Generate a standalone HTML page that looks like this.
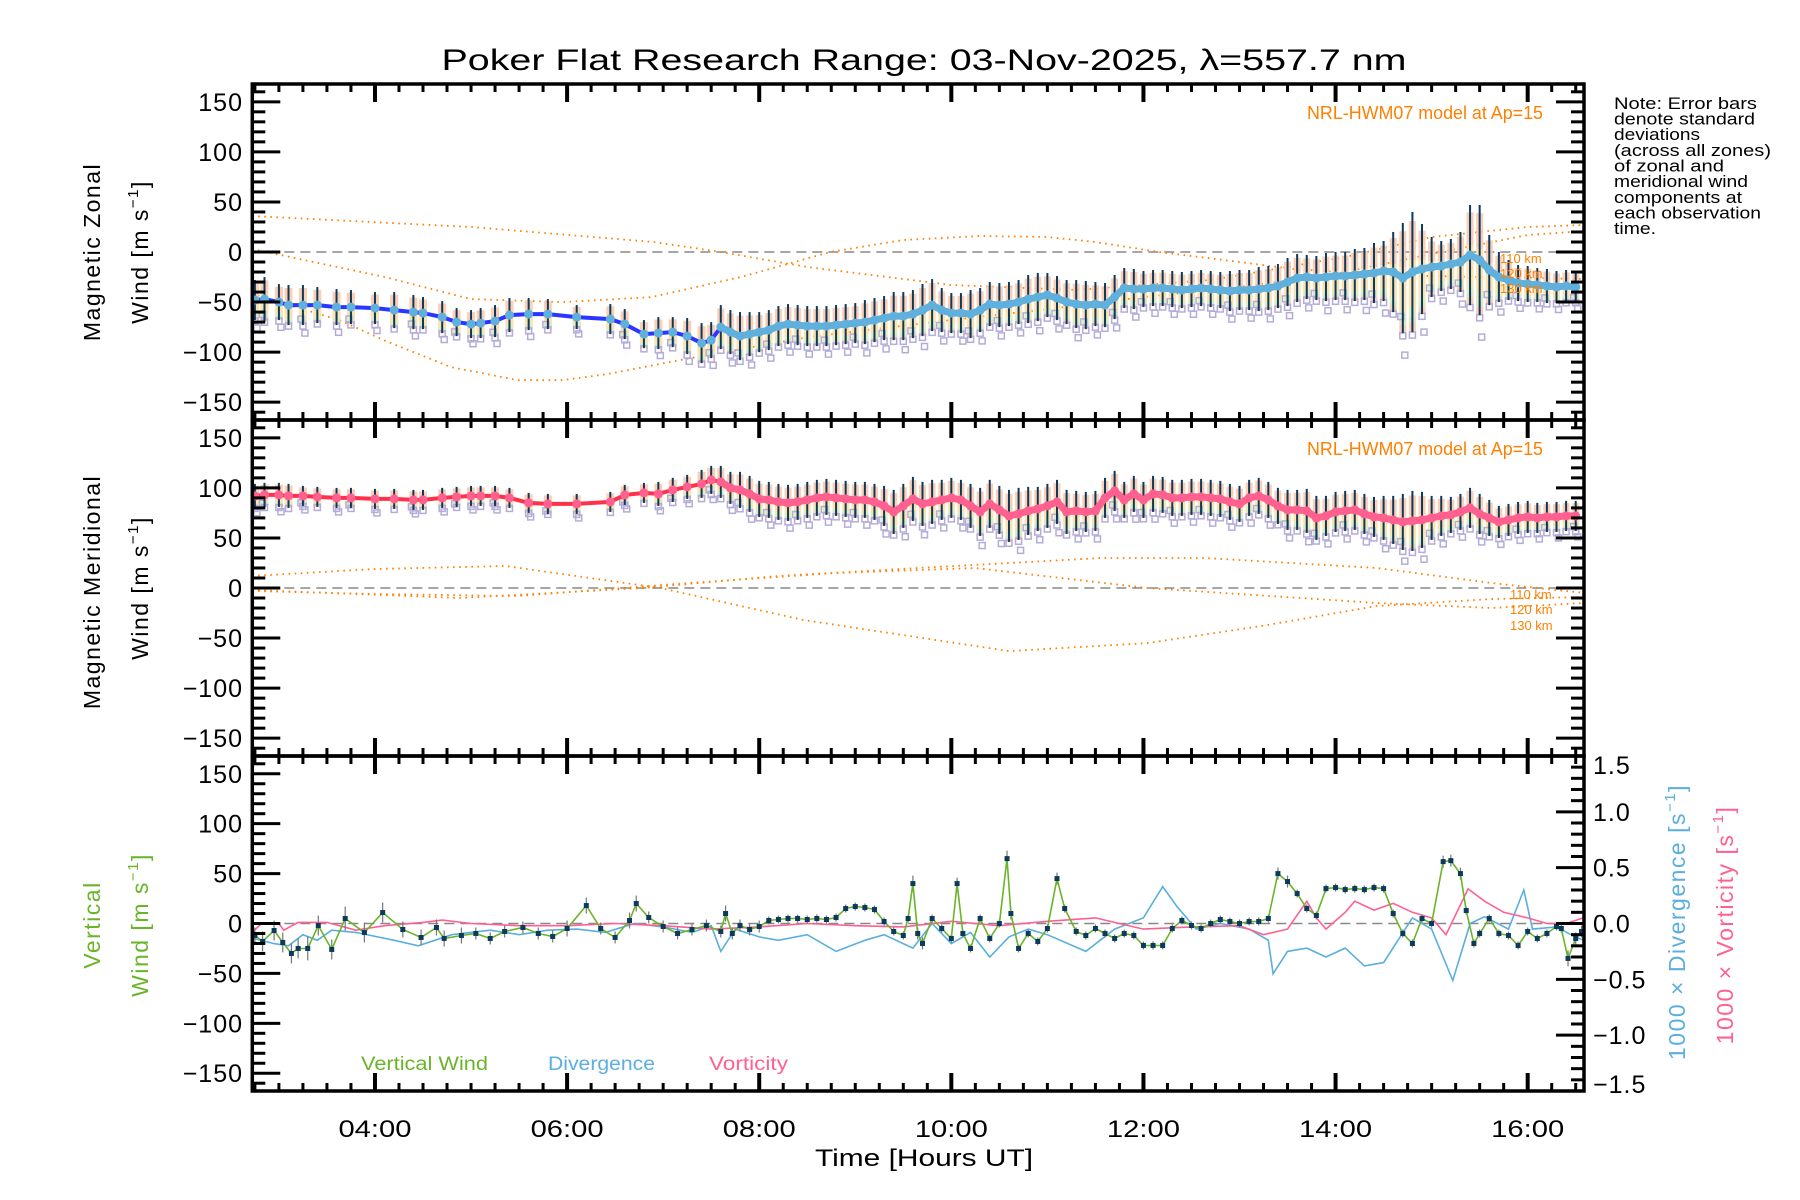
<!DOCTYPE html>
<html><head><meta charset="utf-8"><title>Poker Flat Research Range winds</title>
<style>
html,body{margin:0;padding:0;background:#fff;}
svg{display:block;font-family:"Liberation Sans",sans-serif;}
</style></head>
<body>
<svg id="chart" xmlns="http://www.w3.org/2000/svg" width="1800" height="1200" viewBox="0 0 1800 1200">
<rect x="0" y="0" width="1800" height="1200" fill="#fff"/>
<text x="924" y="70" font-size="30" text-anchor="middle" textLength="965" lengthAdjust="spacingAndGlyphs">Poker Flat Research Range: 03-Nov-2025, λ=557.7 nm</text>
<g id="marks"></g>
<g id="axes"></g>
<!-- y axis titles -->
<text transform="translate(100,252) rotate(-90)" font-size="23" text-anchor="middle" letter-spacing="1.5">Magnetic Zonal</text>
<text transform="translate(148,252) rotate(-90)" font-size="23" text-anchor="middle" letter-spacing="1.5">Wind [m s<tspan font-size="15" dy="-10">−1</tspan><tspan dy="10">]</tspan></text>
<text transform="translate(100,592) rotate(-90)" font-size="23" text-anchor="middle" letter-spacing="1.5">Magnetic Meridional</text>
<text transform="translate(148,588) rotate(-90)" font-size="23" text-anchor="middle" letter-spacing="1.5">Wind [m s<tspan font-size="15" dy="-10">−1</tspan><tspan dy="10">]</tspan></text>
<text transform="translate(100,925) rotate(-90)" font-size="23" text-anchor="middle" letter-spacing="1.5" fill="#6ab42a">Vertical</text>
<text transform="translate(148,925) rotate(-90)" font-size="23" text-anchor="middle" letter-spacing="1.5" fill="#6ab42a">Wind [m s<tspan font-size="15" dy="-10">−1</tspan><tspan dy="10">]</tspan></text>
<text transform="translate(1685,922) rotate(-90)" font-size="23" text-anchor="middle" letter-spacing="1.5" fill="#5aafdf">1000 × Divergence [s<tspan font-size="15" dy="-10">−1</tspan><tspan dy="10">]</tspan></text>
<text transform="translate(1733,925) rotate(-90)" font-size="23" text-anchor="middle" letter-spacing="1.5" fill="#ff6090">1000 × Vorticity [s<tspan font-size="15" dy="-10">−1</tspan><tspan dy="10">]</tspan></text>
<text x="924" y="1166" font-size="24" text-anchor="middle" textLength="218" lengthAdjust="spacingAndGlyphs">Time [Hours UT]</text>
<!-- note -->
<g font-size="17">
<text x="1614" y="109" textLength="143" lengthAdjust="spacingAndGlyphs">Note: Error bars</text>
<text x="1614" y="124.5" textLength="141" lengthAdjust="spacingAndGlyphs">denote standard</text>
<text x="1614" y="140" textLength="86" lengthAdjust="spacingAndGlyphs">deviations</text>
<text x="1614" y="156" textLength="157" lengthAdjust="spacingAndGlyphs">(across all zones)</text>
<text x="1614" y="171.5" textLength="110" lengthAdjust="spacingAndGlyphs">of zonal and</text>
<text x="1614" y="187" textLength="134" lengthAdjust="spacingAndGlyphs">meridional wind</text>
<text x="1614" y="203" textLength="128" lengthAdjust="spacingAndGlyphs">components at</text>
<text x="1614" y="218.5" textLength="147" lengthAdjust="spacingAndGlyphs">each observation</text>
<text x="1614" y="234" textLength="42" lengthAdjust="spacingAndGlyphs">time.</text>
</g>
<text x="1307" y="119" font-size="18" fill="#ff8000" textLength="236" lengthAdjust="spacingAndGlyphs">NRL-HWM07 model at Ap=15</text>
<text x="1307" y="455" font-size="18" fill="#ff8000" textLength="236" lengthAdjust="spacingAndGlyphs">NRL-HWM07 model at Ap=15</text>
<g font-size="13" fill="#ff8000">
<text x="1500" y="263">110 km</text><text x="1500" y="278">120 km</text><text x="1500" y="293">130 km</text>
</g>
<g font-size="13" fill="#ff8000">
<text x="1510" y="599">110 km</text><text x="1510" y="614">120 km</text><text x="1510" y="630">130 km</text>
</g>
<text x="361" y="1070" font-size="19" fill="#6ab42a" textLength="127" lengthAdjust="spacingAndGlyphs">Vertical Wind</text>
<text x="548" y="1070" font-size="19" fill="#5aafdf" textLength="107" lengthAdjust="spacingAndGlyphs">Divergence</text>
<text x="709" y="1070" font-size="19" fill="#ff6090" textLength="79" lengthAdjust="spacingAndGlyphs">Vorticity</text>
</svg>
<script>
// ---------- data ----------
const obsTimes = [2.75,2.85,3.0,3.1,3.25,3.4,3.6,3.75,4.0,4.2,4.4,4.5,4.7,4.85,5.0,5.1,5.25,5.4,5.6,5.8,6.1,6.45,6.6,6.8,6.95,7.1,7.25,7.4,7.5,
7.6,7.7,7.8,7.9,8.0,8.1,8.2,8.3,8.4,8.5,8.6,8.7,8.8,8.9,9.0,9.1,9.2,9.3,9.4,9.5,
9.6,9.7,9.8,9.9,10.0,10.1,10.2,10.3,10.4,10.5,10.6,10.7,10.8,10.9,11.0,11.1,11.2,11.3,11.4,11.5,
11.6,11.7,11.8,11.9,12.0,12.1,12.2,12.3,12.4,12.5,12.6,12.7,12.8,12.9,13.0,13.1,13.2,13.3,13.4,13.5,
13.6,13.7,13.8,13.9,14.0,14.1,14.2,14.3,14.4,14.5,14.6,14.7,14.8,14.9,15.0,15.1,15.2,15.3,15.4,15.5,
15.6,15.7,15.8,15.9,16.0,16.1,16.2,16.3,16.4,16.5];
const zonalMean = [-48,-47,-50,-53,-53,-53,-55,-55,-56,-58,-60,-61,-65,-70,-72,-71,-69,-63,-62,-62,-65,-67,-72,-82,-81,-80,-84,-91,-88,
-75,-80,-84,-82,-80,-78,-74,-72,-73,-74,-74,-74,-73,-72,-71,-70,-68,-66,-64,-64,
-62,-58,-53,-58,-61,-61,-62,-58,-52,-53,-52,-50,-47,-45,-43,-46,-50,-52,-53,-52,
-53,-45,-36,-37,-37,-36,-36,-37,-38,-37,-36,-37,-38,-39,-38,-38,-37,-36,-34,-30,
-26,-25,-26,-25,-24,-24,-23,-22,-21,-19,-20,-26,-20,-17,-15,-14,-12,-10,-3,-8,
-18,-25,-28,-31,-32,-33,-34,-35,-34,-35];
const zonalSd = [20,22,18,20,20,18,18,17,16,18,17,16,16,14,14,15,16,17,16,15,12,15,15,14,16,15,18,20,18,
22,22,24,22,20,20,20,20,20,20,20,20,20,20,20,22,22,22,24,24,
24,26,26,22,20,20,24,22,22,22,22,22,24,24,22,22,22,24,24,22,
22,22,20,20,18,18,18,18,18,18,18,18,18,20,20,20,22,22,22,24,
24,22,22,24,24,24,26,26,30,30,40,55,60,45,30,25,25,30,50,55,
35,25,20,18,18,17,17,16,16,15];
const meridMean = [92,93,93,92,92,91,90,90,89,89,88,88,90,91,92,92,92,90,85,84,84,86,93,95,94,98,101,104,108,
106,100,98,94,89,88,86,85,86,88,90,91,90,89,88,88,86,82,76,82,
89,84,86,88,90,88,82,76,84,78,72,74,77,79,82,86,76,77,76,77,
90,97,88,94,88,94,93,90,90,91,91,90,89,86,84,90,92,88,82,78,
78,77,70,72,76,77,78,74,71,70,68,66,67,68,70,72,73,76,80,74,
70,66,68,70,71,70,71,71,72,72];
const meridSd = [12,12,12,12,10,10,10,10,10,10,10,10,10,10,10,10,10,10,10,10,10,10,10,10,12,12,12,14,14,
16,16,18,18,18,18,18,18,18,18,18,18,18,18,18,18,18,20,22,22,
22,22,22,20,20,20,22,24,24,24,26,26,24,22,22,22,22,20,20,20,
20,20,18,18,18,18,18,18,18,18,18,18,18,18,18,18,18,18,18,20,
20,22,22,20,20,20,20,20,20,22,24,28,30,28,22,20,18,18,20,20,
18,16,16,16,16,15,15,15,15,15];

// NRL-HWM07 model curves (zonal)
const zonModelAT = [2.72,5.0,6.9,7.6,8.5,10.0,11.3,12.7,14.1,15.0,16.0,16.59];
const zonModelAV = [36,25,10,0,-15,-33,-38,-28,-5,15,25,27];
const zonModelBT = [2.72,4.1,5.0,5.95,6.88,7.81,8.74,9.5,10.3,11.0,11.5,12.16,13.0,13.56,14.5,15.5,16.59];
const zonModelBV = [3,-25,-47,-50,-45,-25,0,12,16,15,10,0,-10,-17,-23,-25,-27];
const zonModelCT = [2.72,3.63,4.09,4.79,5.49,5.95,6.42,7.34,8.51,9.99,11.0,12.0,13.0,14.0,15.0,16.0,16.59];
const zonModelCV = [-42,-68,-88,-115,-128,-128,-122,-105,-85,-68,-57,-45,-35,-22,-2,17,21];
// NRL-HWM07 model curves (meridional)
const merModelAT = [2.72,4.0,5.36,6.97,8.46,10.6,12.04,13.23,14.43,15.62,16.59];
const merModelAV = [12,19,22,0,-32,-63,-55,-38,-18,-11,-9];
const merModelBT = [2.72,4.88,6.79,8.2,9.65,11.56,12.64,14.43,15.62,16.59];
const merModelBV = [-2,-10,0,12,20,30,30,20,5,-5];
const merModelCT = [2.72,4.0,5.48,7.27,8.8,10.25,12.04,14.43,15.62,16.59];
const merModelCV = [-3,-6,-8,5,15,20,0,-15,-20,-15];

// vertical wind
const vertTimes = [2.75,2.83,2.95,3.04,3.13,3.2,3.3,3.41,3.55,3.69,3.89,4.08,4.29,4.48,4.64,4.72,4.9,5.05,5.2,5.35,5.54,5.7,5.85,6.0,6.2,6.35,6.5,6.65,6.72,6.85,7.0,7.15,7.3,7.45,7.6,7.65,7.72,7.8,7.9,8.0,
8.1,8.2,8.3,8.4,8.5,8.6,8.7,8.8,8.9,9.0,9.1,9.2,9.3,9.4,9.5,9.55,9.6,9.65,9.7,9.8,9.9,10.0,10.06,10.12,10.2,10.3,10.4,10.5,10.58,10.62,10.7,10.8,10.9,11.0,11.1,11.18,11.3,11.4,11.5,11.6,
11.7,11.8,11.9,12.0,12.1,12.2,12.3,12.4,12.5,12.6,12.7,12.8,12.9,13.0,13.1,13.2,13.3,13.4,13.5,13.6,13.7,13.8,13.9,14.0,14.1,14.2,14.3,14.4,14.5,14.6,14.7,14.8,14.9,15.0,15.12,15.2,15.3,15.36,15.44,15.5,
15.6,15.7,15.8,15.9,16.0,16.1,16.2,16.3,16.35,16.42,16.5,16.56];
const vertWind = [-12,-18,-7,-19,-30,-25,-25,-2,-26,5,-9,11,-6,-14,-4,-15,-12,-10,-15,-8,-4,-10,-13,-5,18,-5,-14,3,20,6,-3,-10,-6,-2,-8,10,-10,-2,-6,-3,
3,4,5,5,4,5,4,6,15,17,16,14,2,-8,-12,5,40,-10,-20,5,-5,-15,40,-10,-25,5,-15,0,65,10,-25,-10,-18,-5,45,15,-8,-12,-5,-10,
-15,-10,-12,-22,-22,-22,-5,3,-2,-5,0,4,2,0,2,2,5,50,42,30,15,8,35,36,34,35,34,36,35,10,-10,-20,5,0,62,63,50,13,-20,-10,
5,-10,-12,-22,-8,-15,-10,-3,-5,-35,-15,-8];
const vertErr = [8,10,10,10,10,10,12,10,10,12,10,10,8,8,8,8,8,6,6,6,6,6,6,8,8,6,6,8,8,6,6,6,6,6,6,8,6,6,6,6,
4,4,4,4,4,4,4,4,4,4,4,4,4,4,4,4,8,6,6,4,4,4,6,4,4,4,4,4,8,6,4,4,4,4,6,4,4,4,4,4,
4,4,4,4,4,4,4,4,4,4,4,4,4,4,4,4,4,6,6,4,4,4,4,4,4,4,4,4,4,4,4,4,4,4,6,6,6,4,4,4,
4,4,4,4,4,4,4,4,4,8,6,6];
// divergence and vorticity (x1000, s^-1)
const divTimes = [2.72,2.95,3.1,3.25,3.4,3.55,3.8,4.2,4.45,4.8,5.2,5.5,5.8,6.1,6.4,6.7,7.0,7.3,7.5,7.6,7.75,8.0,8.2,8.5,8.8,9.1,9.3,9.6,9.8,10.0,10.2,10.4,10.6,10.8,11.0,11.4,11.7,12.0,12.2,12.35,12.55,12.8,13.1,13.3,13.35,13.5,13.7,13.9,14.1,14.3,14.5,14.8,15.0,15.22,15.4,15.55,15.8,15.96,16.05,16.3,16.45,16.58];
const divValues = [-0.13,-0.18,-0.2,-0.1,-0.15,-0.06,-0.08,-0.15,-0.2,-0.1,-0.06,-0.1,-0.06,-0.05,-0.08,0.0,-0.03,-0.08,-0.02,-0.25,-0.05,-0.12,-0.15,-0.1,-0.25,-0.15,-0.1,-0.22,0.0,-0.18,-0.08,-0.3,-0.12,-0.05,-0.1,-0.25,-0.05,0.05,0.33,0.15,-0.05,0.0,-0.05,-0.15,-0.45,-0.25,-0.22,-0.3,-0.22,-0.38,-0.35,0.05,-0.05,-0.51,0.0,0.06,-0.05,0.3,-0.05,-0.03,-0.1,-0.15];
const vorTimes = [2.72,2.82,3.0,3.05,3.2,3.5,3.8,4.1,4.5,4.7,5.0,5.5,6.0,6.5,7.0,7.5,8.0,8.5,9.0,9.5,10.0,10.5,11.0,11.5,12.0,12.5,13.0,13.25,13.5,13.7,13.8,13.9,14.1,14.2,14.4,14.6,14.8,15.0,15.15,15.38,15.55,15.75,16.0,16.2,16.4,16.58];
const vorValues = [-0.08,0.0,0.0,-0.06,0.01,0.01,-0.06,-0.02,0.01,0.03,0.0,-0.02,-0.02,0.0,-0.02,-0.05,-0.03,0.0,-0.02,-0.03,0.02,-0.02,0.02,0.05,-0.05,-0.03,-0.02,-0.1,-0.05,0.2,0.05,-0.05,0.1,0.2,0.12,0.18,0.1,0.05,-0.1,0.31,0.2,0.1,0.05,0.0,0.0,0.05];
const yTickValues = [150,100,50,0,-50,-100,-150];
const rightTickValues = [1.5,1.0,0.5,0.0,-0.5,-1.0,-1.5];
const xTickLabels = ["04:00","06:00","08:00","10:00","12:00","14:00","16:00"];
const xTickHours = [4,6,8,10,12,14,16];

// ---------- scales ----------
const NS = "http://www.w3.org/2000/svg";
const L = 252.3, R = 1584, T0 = 2.723, PXH = 96.06;
const panels = [{top:84,bot:420},{top:420,bot:756},{top:756,bot:1091}];
function xs(t){ return L + (t - T0) * PXH; }
function ys(p, v){ const P = panels[p]; const mid = (P.top+P.bot)/2; return mid - v * (P.bot-P.top)/335.6; }
function yr(v){ return ys(2, v * 111.87); }
const marks = document.getElementById('marks');
const axes = document.getElementById('axes');
function mk(tag, attrs, parent){ const e = document.createElementNS(NS, tag); for (const k in attrs) e.setAttribute(k, attrs[k]); (parent||marks).appendChild(e); return e; }
function pathFrom(xArr, yArr){ let d=''; for (let i=0;i<xArr.length;i++) d += (i?'L':'M') + xArr[i].toFixed(1) + ',' + yArr[i].toFixed(1); return d; }

// clip
const defs = mk('defs', {});


for (let p=0;p<3;p++){
  const cp = mk('clipPath', {id:'clip'+p}, defs);
  
  
  const cr = mk('rect', {x:L, y:panels[p].top, width:R-L, height:panels[p].bot-panels[p].top}, cp);
  
  
}

// zero lines
for (let p=0;p<3;p++){
  const z = mk('line', {x1:L, x2:R, y1:ys(p,0), y2:ys(p,0), stroke:'#888', 'stroke-width':1.5, 'stroke-dasharray':'10 6'});
  
  
}

// model curves
function model(p, tArr, vArr, name){
  const g = mk('path', {d: pathFrom(tArr.map(xs), vArr.map(v=>ys(p,v))), fill:'none', stroke:'#ff8000', 'stroke-width':1.8, 'stroke-dasharray':'1.6 4.5', 'clip-path':'url(#clip'+p+')'});
  
  
}
model(0, zonModelAT, zonModelAV, 'zonal-model-110km');
model(0, zonModelBT, zonModelBV, 'zonal-model-120km');
model(0, zonModelCT, zonModelCV, 'zonal-model-130km');
model(1, merModelAT, merModelAV, 'meridional-model-110km');
model(1, merModelBT, merModelBV, 'meridional-model-120km');
model(1, merModelCT, merModelCV, 'meridional-model-130km');

// wind panels
function windPanel(p, mean, sd, lineColor, dotColor, prefix){
  const n = obsTimes.length;
  for (let i=0;i<n;i++){
    const x = xs(obsTimes[i]);
    const w = obsTimes[i] < 7.55 ? 8 : 7;
    const b = mk('rect', {x:x-w/2, y:ys(p, mean[i]+sd[i]*0.85), width:w, height:ys(p, mean[i]-sd[i]) - ys(p, mean[i]+sd[i]*0.85), fill:'#fbc6a8', opacity:0.85, 'clip-path':'url(#clip'+p+')'});
    
    
    const yb = mk('rect', {x:x-w/2, y:ys(p, mean[i]+sd[i]*0.2), width:w, height:ys(p, mean[i]-sd[i]*0.75) - ys(p, mean[i]+sd[i]*0.2), fill:'#fff2a8', opacity:0.55, 'clip-path':'url(#clip'+p+')'});
    
    
    const gb = mk('rect', {x:x-w/2, y:ys(p, mean[i]-sd[i]*0.6), width:w, height:ys(p, mean[i]-sd[i]*0.85) - ys(p, mean[i]-sd[i]*0.6), fill:'#c8f5d0', opacity:0.6, 'clip-path':'url(#clip'+p+')'});
    
    
    const s1 = mk('rect', {x:x-3, y:ys(p, mean[i]-sd[i]*1.05)-3, width:6, height:6, fill:'none', stroke:'#b4acd8', 'stroke-width':1.5, 'clip-path':'url(#clip'+p+')'});
    
    
    if (i % 2 === 0){
      const s2 = mk('rect', {x:x-1, y:ys(p, mean[i]-sd[i]*1.4)-3, width:6, height:6, fill:'none', stroke:'#b4acd8', 'stroke-width':1.5, 'clip-path':'url(#clip'+p+')'});
      
      
    }
    if (i % 3 === 1){
      const s3 = mk('rect', {x:x-5, y:ys(p, mean[i]-sd[i]*0.7)-3, width:6, height:6, fill:'none', stroke:'#b4acd8', 'stroke-width':1.5, 'clip-path':'url(#clip'+p+')'});
      
      
    }
  }
  for (let i=0;i<n;i++){
    const x = xs(obsTimes[i]);
    const e = mk('line', {x1:x, x2:x, y1:ys(p, mean[i]+sd[i]), y2:ys(p, mean[i]-sd[i]), stroke:'#0b3a5c', 'stroke-width':2});
    
    
  }
  const ln = mk('path', {d: pathFrom(obsTimes.map(xs), mean.map(v=>ys(p,v))), fill:'none', stroke:lineColor, 'stroke-width':4});
  
  
  const dT = [], dV = [];
  for (let i=0;i<n;i++){ if (obsTimes[i] >= 7.55){ dT.push(obsTimes[i]); dV.push(mean[i]); } }
  const dl = mk('path', {d: pathFrom(dT.map(xs), dV.map(v=>ys(p,v))), fill:'none', stroke:dotColor, 'stroke-width':7, 'stroke-linejoin':'round'});
  
  
  for (let i=0;i<n;i++){
    const c = mk('circle', {cx:xs(obsTimes[i]), cy:ys(p, mean[i]), r:4.5, fill:dotColor});
    
    
  }
}
windPanel(0, zonalMean, zonalSd, '#2b35ff', '#5fb0dc', 'zonal');
windPanel(1, meridMean, meridSd, '#ff3048', '#ff6090', 'meridional');

// panel 3
const dv = mk('path', {d: pathFrom(divTimes.map(xs), divValues.map(yr)), fill:'none', stroke:'#5aafdf', 'stroke-width':1.6, 'clip-path':'url(#clip2)'});


const vo = mk('path', {d: pathFrom(vorTimes.map(xs), vorValues.map(yr)), fill:'none', stroke:'#ff6090', 'stroke-width':1.6, 'clip-path':'url(#clip2)'});


for (let i=0;i<vertTimes.length;i++){
  const x = xs(vertTimes[i]);
  const e = mk('line', {x1:x, x2:x, y1:ys(2, vertWind[i]+vertErr[i]), y2:ys(2, vertWind[i]-vertErr[i]), stroke:'#777', 'stroke-width':1.2});
  
  
}
const vw = mk('path', {d: pathFrom(vertTimes.map(xs), vertWind.map(v=>ys(2,v))), fill:'none', stroke:'#6ab42a', 'stroke-width':1.6});


for (let i=0;i<vertTimes.length;i++){
  const m = mk('rect', {x:xs(vertTimes[i])-2.5, y:ys(2, vertWind[i])-2.5, width:5, height:5, fill:'#0b3a5c'});
  
  
}

// ---------- axes ----------
for (let p=0;p<3;p++){
  const P = panels[p];
  const fr = mk('rect', {x:L, y:P.top, width:R-L, height:P.bot-P.top, fill:'none', stroke:'#000', 'stroke-width':3.5}, axes);
  
  
  for (let v=-160; v<=160; v+=10){
    const major = v % 50 === 0;
    const len = major ? 28 : 13;
    const y = ys(p, v);
    const tl = mk('line', {x1:L, x2:L+len, y1:y, y2:y, stroke:'#000', 'stroke-width':3}, axes);
    
    
    if (p < 2){
      const tr = mk('line', {x1:R, x2:R-len, y1:y, y2:y, stroke:'#000', 'stroke-width':3}, axes);
      
      
    }
  }
  for (const v of yTickValues){
    const t = mk('text', {x:243, y:ys(p,v)+9, 'font-size':25, 'text-anchor':'end', 'letter-spacing':1}, axes);
    t.textContent = (v<0 ? '\u2212' : '') + Math.abs(v);
    
    
  }
  for (let q = 11; q <= 66; q++){
    const t = q/4; if (t < T0 || t > 16.58) continue;
    const major = (q % 8 === 0);
    const len = major ? 18 : 8;
    const x = xs(t);
    const tb = mk('line', {x1:x, x2:x, y1:P.bot, y2:P.bot-len, stroke:'#000', 'stroke-width':major?4:3}, axes);
    
    
    const tt = mk('line', {x1:x, x2:x, y1:P.top, y2:P.top+len, stroke:'#000', 'stroke-width':major?4:3}, axes);
    
    
  }
}
for (let k=-15; k<=15; k++){
  const v = k/10;
  const major = k % 5 === 0;
  const len = major ? 28 : 13;
  const y = yr(v);
  const t = mk('line', {x1:R, x2:R-len, y1:y, y2:y, stroke:'#000', 'stroke-width':3}, axes);
  
  
}
for (const v of rightTickValues){
  let yy = yr(v)+9; if (v === 1.5) yy += 9; if (v === -1.5) yy -= 7;
  const t = mk('text', {x:1593, y:yy, 'font-size':25, 'letter-spacing':1}, axes);
  t.textContent = (v<0 ? '\u2212' : '') + Math.abs(v).toFixed(1);
  
  
}
for (let i=0;i<xTickLabels.length;i++){
  const t = mk('text', {x:xs(xTickHours[i]), y:1137, 'font-size':24, 'text-anchor':'middle', textLength:73, lengthAdjust:'spacingAndGlyphs'}, axes);
  t.textContent = xTickLabels[i];
  
  
}
</script>
</body></html>
